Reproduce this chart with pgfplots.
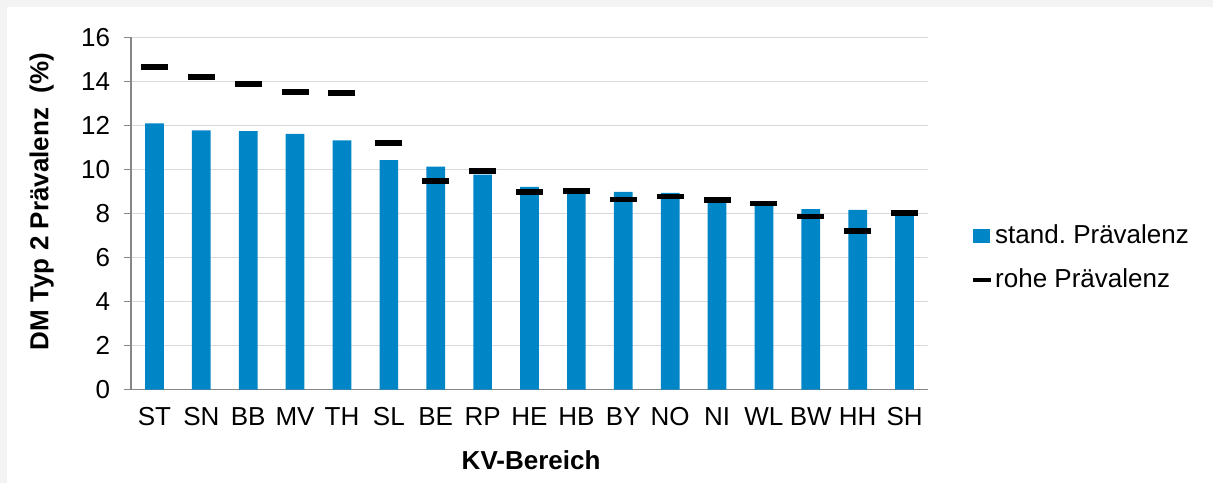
\documentclass[border=0pt]{standalone}
\usepackage{pgfplots}
\pgfplotsset{compat=1.18}
\usepackage{fontspec}
\setmainfont{Liberation Sans}
\definecolor{barblue}{HTML}{0086C6}
\definecolor{gridgray}{HTML}{D9D9D9}
\definecolor{axisgray}{HTML}{868686}
\definecolor{shadegray}{HTML}{F3F3F3}
\begin{document}
\fontsize{26}{31}\selectfont
\begin{tikzpicture}[x=1pt,y=1pt]
\path[use as bounding box] (0,0) rectangle (1213,483);
\fill[shadegray] (0,0) rectangle (7,483);
\fill[shadegray] (0,476) rectangle (1213,483);
\begin{axis}[
  at={(131pt,93.3pt)}, anchor=south west,
  scale only axis, width=797pt, height=352.4pt,
  xmin=-0.5, xmax=16.5, ymin=0, ymax=16,
  axis x line*=bottom, axis y line*=left,
  axis line style={axisgray, line width=1.5pt},
  xtick={0,...,16},
  xticklabels={ST,SN,BB,MV,TH,SL,BE,RP,HE,HB,BY,NO,NI,WL,BW,HH,SH},
  minor xtick={-0.5,0.5,...,16.5},
  ytick={0,2,...,16},
  tick align=outside,
  x tick style={draw=none},
  minor x tick style={axisgray, line width=1.5pt},
  minor tick length=7pt,
  y tick style={axisgray, line width=1.5pt},
  major tick length=7pt,
  ymajorgrids,
  grid style={gridgray, line width=1.5pt},
  tick label style={font=\fontsize{26}{31}\selectfont},
  /pgf/number format/assume math mode=true,
  yticklabel style={xshift=-5pt},
  xticklabel style={yshift=-2pt},
  ylabel={\textbf{DM Typ 2 Prävalenz\ \ (\%)}},
  ylabel style={at={(axis description cs:-0.112,0.534)}, anchor=center, font=\fontsize{26}{31}\selectfont},
  xlabel={\textbf{KV-Bereich}},
  xlabel style={at={(axis description cs:0.502,-0.201)}, anchor=center, font=\fontsize{26}{31}\selectfont},
  legend style={at={(axis description cs:1.054,0.374)}, anchor=west, draw=none, fill=none,
    font=\fontsize{26}{31}\selectfont, row sep=18pt, inner sep=0pt},
  legend cell align=left,
  clip=false,
]
\addplot[ybar, bar width=18.7pt, bar shift=0pt, fill=barblue, draw=none,
  legend image code/.code={\fill[barblue] (0pt,-7pt) rectangle (17pt,7pt);}]
  coordinates {(0,12.09) (1,11.77) (2,11.74) (3,11.62) (4,11.32) (5,10.42) (6,10.13) (7,9.76) (8,9.21) (9,9.02) (10,8.98) (11,8.94) (12,8.62) (13,8.45) (14,8.20) (15,8.17) (16,8.05)};
\addlegendentry{stand.\ Prävalenz}
\addplot[only marks, mark=-, mark size=13.5pt, mark options={line width=5.7pt, black},
  legend image code/.code={\draw[black, line width=4pt] (0pt,0pt) -- (18pt,0pt);}]
  coordinates {(0,14.66) (1,14.20) (2,13.89) (3,13.52) (4,13.48) (5,11.20) (6,9.48) (7,9.94) (8,8.99) (9,9.03) (10,8.63) (11,8.77) (12,8.61) (13,8.45) (14,7.86) (15,7.22) (16,8.03)};
\addlegendentry{rohe Prävalenz}
\end{axis}
\end{tikzpicture}
\end{document}
